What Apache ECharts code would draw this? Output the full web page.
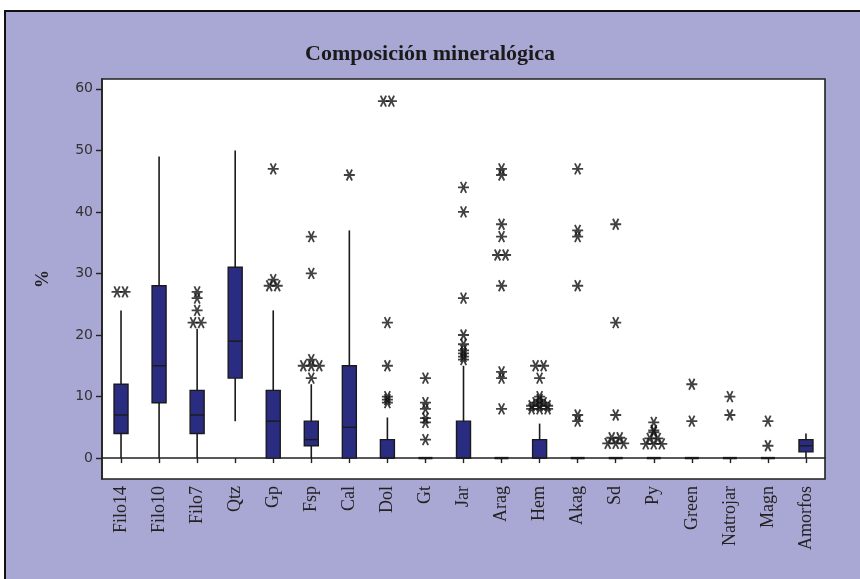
<!DOCTYPE html>
<html>
<head>
<meta charset="utf-8">
<script src="https://cdn.jsdelivr.net/npm/echarts@6/dist/echarts.min.js"></script>
<style>
  html, body { margin: 0; padding: 0; background: #ffffff; }
  #chart { width: 860px; height: 579px; }
</style>
</head>
<body>
<div id="chart"></div>
<script>
// ---- Data ----
const categories = ['Filo14','Filo10','Filo7','Qtz','Gp','Fsp','Cal','Dol','Gt','Jar','Arag','Hem','Akag','Sd','Py','Green','Natrojar','Magn','Amorfos'];
const whiskerLow  = [0, 0, 0, 6, 0, 0, 0, 0, 0, 0, 0, 0, 0, 0, 0, 0, 0, 0, 0];
const q1          = [4, 9, 4, 13, 0, 2, 0, 0, 0, 0, 0, 0, 0, 0, 0, 0, 0, 0, 1];
const median      = [7, 15, 7, 19, 6, 3, 5, 0, 0, 0, 0, 0, 0, 0, 0, 0, 0, 0, 2];
const q3          = [12, 28, 11, 31, 11, 6, 15, 3, 0, 6, 0, 3, 0, 0, 0, 0, 0, 0, 3];
const whiskerHigh = [24, 49, 21, 50, 24, 12, 37, 6.6, 0, 15, 0, 5.6, 0, 0, 0, 0, 0, 0, 4];
const outliers = [
  [27, 27],
  [],
  [27, 26, 24, 22, 22],
  [],
  [47, 29, 28, 28],
  [36, 30, 16, 15, 15, 15, 13],
  [46],
  [58, 58, 22, 15, 10, 9.5, 9],
  [13, 9, 8, 6.5, 5.8, 3],
  [44, 40, 26, 20, 18.5, 17.5, 17, 16.5, 16],
  [47, 46, 38, 36, 33, 33, 28, 14, 13, 8],
  [15, 15, 13, 10, 9.5, 9, 9, 8.5, 8.5, 8.5, 8, 8, 8],
  [47, 37, 36, 28, 7, 6],
  [38, 22, 7, 3.3, 3.3, 2.4, 2.4, 2.4],
  [5.8, 4.5, 4.2, 3.2, 3.2, 2.3, 2.3, 2.3],
  [12, 6],
  [10, 7],
  [6, 2],
  []
];
const yTicks = [0, 10, 20, 30, 40, 50, 60];
const titleText = 'Composición mineralógica';
const yName = '%';

// ---- Build series data ----
const boxData = categories.map((c, i) => [i, whiskerLow[i], q1[i], median[i], q3[i], whiskerHigh[i]]);
const starSpacing = 8;
const outlierData = [];
outliers.forEach((list, i) => {
  const counts = {};
  list.forEach(v => { counts[v] = (counts[v] || 0) + 1; });
  const seen = {};
  list.forEach(v => {
    const n = counts[v];
    const k = seen[v] || 0;
    seen[v] = k + 1;
    const dx = (k - (n - 1) / 2) * starSpacing;
    outlierData.push({ value: [i, v], symbolOffset: [dx, 0] });
  });
});

const BOX_FILL = '#2a2c82';
const INK = '#1a1a1a';
const BOX_W = 14;

function renderBox(params, api) {
  const i = api.value(0);
  const pLo = api.coord([i, api.value(1)]);
  const pQ1 = api.coord([i, api.value(2)]);
  const pMed = api.coord([i, api.value(3)]);
  const pQ3 = api.coord([i, api.value(4)]);
  const pHi = api.coord([i, api.value(5)]);
  const x = pQ1[0];
  const children = [];
  if (pHi[1] < pLo[1]) {
    children.push({ type: 'line', shape: { x1: x, y1: pHi[1], x2: x, y2: pLo[1] },
      style: { stroke: INK, lineWidth: 1.6 } });
  }
  if (Math.abs(pQ1[1] - pQ3[1]) < 0.5) {
    children.push({ type: 'line', shape: { x1: x - BOX_W / 2, y1: pQ1[1], x2: x + BOX_W / 2, y2: pQ1[1] },
      style: { stroke: INK, lineWidth: 2.4 } });
  } else {
    children.push({ type: 'rect', shape: { x: x - BOX_W / 2, y: pQ3[1], width: BOX_W, height: pQ1[1] - pQ3[1] },
      style: { fill: BOX_FILL, stroke: INK, lineWidth: 1.4 } });
    children.push({ type: 'line', shape: { x1: x - BOX_W / 2, y1: pMed[1], x2: x + BOX_W / 2, y2: pMed[1] },
      style: { stroke: INK, lineWidth: 1.4 } });
  }
  return { type: 'group', children: children };
}

const chart = echarts.init(document.getElementById('chart'), null, { renderer: 'canvas' });
chart.setOption({
  backgroundColor: '#ffffff',
  animation: false,
  graphic: [
    { type: 'rect', z: -10, silent: true,
      shape: { x: 5, y: 11, width: 900, height: 600 },
      style: { fill: '#a9a7d3', stroke: '#111', lineWidth: 2 } }
  ],
  title: {
    text: titleText,
    left: 'center',
    top: 38,
    textStyle: { fontFamily: 'Liberation Serif', fontWeight: 'bold', fontSize: 22, color: '#1a1a1a' }
  },
  grid: {
    left: 102, top: 79, width: 723, height: 400,
    show: true, backgroundColor: '#ffffff', borderColor: '#222', borderWidth: 1.6
  },
  xAxis: {
    type: 'category',
    data: categories,
    boundaryGap: true,
    axisLine: { show: true, lineStyle: { color: '#222', width: 1.6 } },
    axisTick: { show: true, alignWithLabel: true, length: 5, lineStyle: { color: '#222', width: 1.4 } },
    axisLabel: { rotate: 90, margin: 7, interval: 0, fontFamily: 'Liberation Serif', fontSize: 18, color: '#222' },
    splitLine: { show: false }
  },
  yAxis: {
    type: 'value',
    min: -3.4,
    max: 61.6,
    name: yName,
    nameLocation: 'middle',
    nameGap: 50,
    nameRotate: 90,
    nameTextStyle: { fontFamily: 'Liberation Serif', fontWeight: 'bold', fontSize: 18, color: '#222' },
    axisLine: { show: true, lineStyle: { color: '#222', width: 1.6 } },
    axisTick: { show: true, length: 6, customValues: yTicks, lineStyle: { color: '#222', width: 1.4 } },
    axisLabel: { customValues: yTicks, margin: 9, fontFamily: 'DejaVu Sans', fontSize: 14, color: '#333' },
    splitLine: { show: false }
  },
  series: [
    {
      type: 'custom',
      renderItem: renderBox,
      data: boxData,
      encode: { x: 0, y: [1, 2, 3, 4, 5] },
      z: 2
    },
    {
      type: 'scatter',
      data: outlierData,
      symbol: 'path://M0,10L20,10M5,1.34L15,18.66M15,1.34L5,18.66',
      symbolSize: 11,
      itemStyle: { color: 'rgba(0,0,0,0)', borderColor: '#111', borderWidth: 1.8 },
      z: 3
    }
  ]
});
</script>
</body>
</html>
